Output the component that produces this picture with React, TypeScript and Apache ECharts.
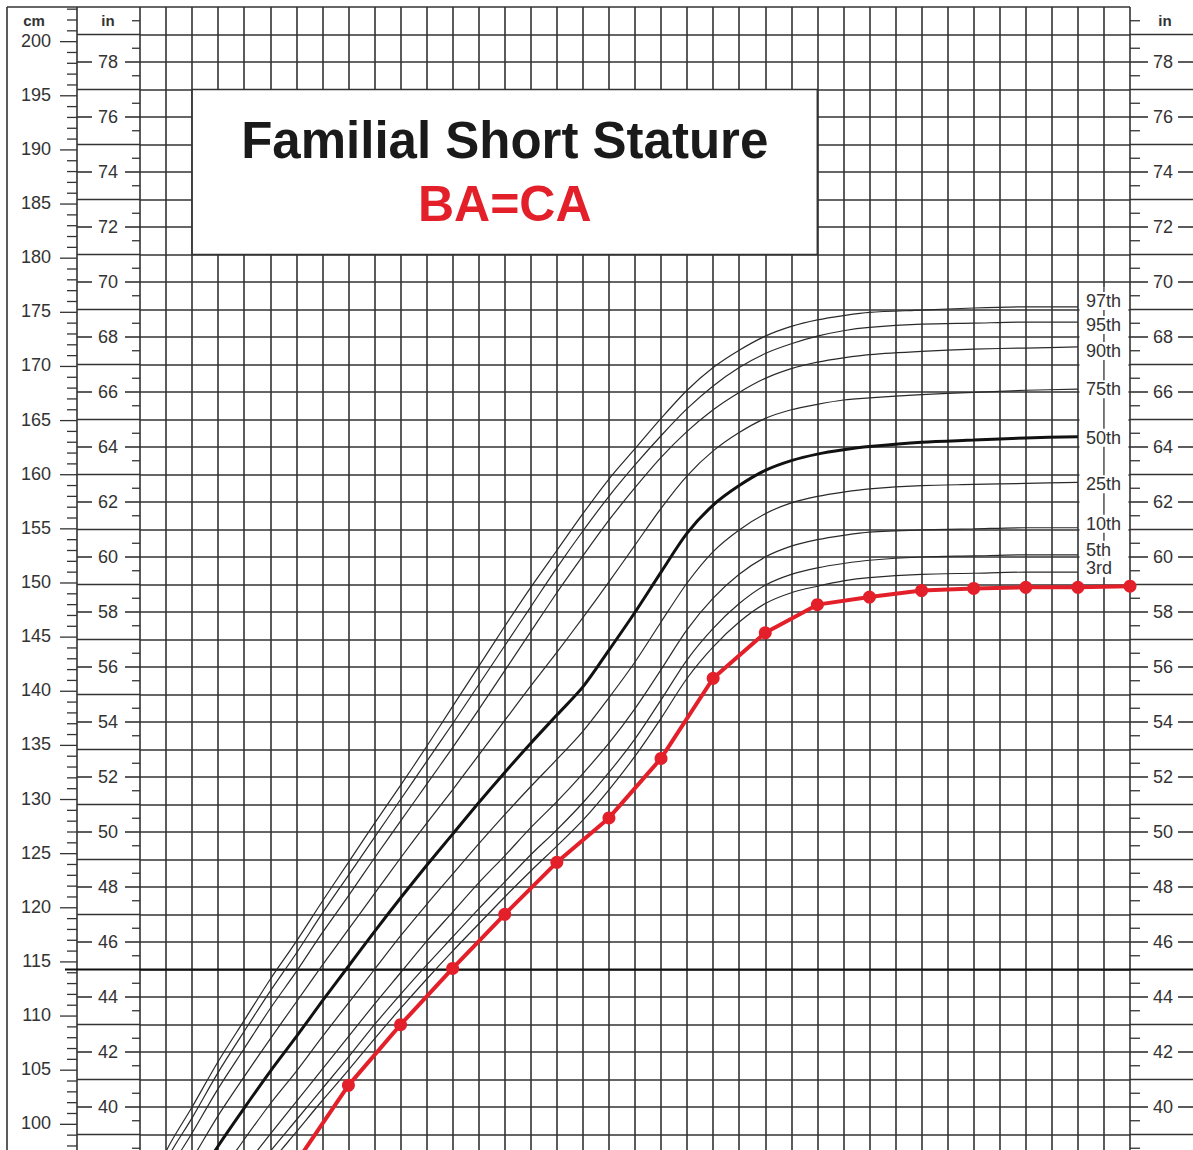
import React, { useEffect, useRef } from "react";
import * as echarts from "echarts";

// ---------- data ----------
const ages = [2, 2.5, 3, 3.5, 4, 4.5, 5, 5.5, 6, 6.5, 7, 7.5, 8, 8.5, 9, 9.5, 10, 10.5, 11, 11.5, 12, 12.5, 13, 13.5, 14, 14.5, 15, 15.5, 16, 17, 18, 19, 20];

// stature percentiles in cm
const p3 = [78.6, 83.5, 86.9, 90.3, 93.4, 96.4, 99.3, 102.2, 105.0, 107.9, 110.7, 113.4, 116.0, 118.5, 121.0, 123.4, 125.7, 128.1, 130.9, 134.0, 137.5, 141.2, 144.1, 146.4, 148.1, 149.1, 149.7, 150.2, 150.5, 150.8, 150.9, 151.0, 151.0];
const p5 = [79.4, 84.4, 87.8, 91.2, 94.4, 97.5, 100.4, 103.3, 106.2, 109.2, 112.0, 114.7, 117.3, 119.9, 122.4, 124.9, 127.2, 129.7, 132.5, 135.6, 139.2, 142.9, 145.8, 148.1, 149.8, 150.8, 151.4, 151.8, 152.1, 152.4, 152.5, 152.6, 152.6];
const p10 = [80.6, 85.8, 89.2, 92.7, 96.0, 99.1, 102.1, 105.1, 108.1, 111.1, 114.0, 116.9, 119.6, 122.3, 124.8, 127.4, 129.8, 132.4, 135.2, 138.4, 142.0, 145.7, 148.6, 150.8, 152.4, 153.4, 154.0, 154.4, 154.7, 154.9, 155.0, 155.1, 155.1];
const p25 = [82.7, 88.0, 91.6, 95.2, 98.6, 101.9, 104.9, 108.1, 111.2, 114.3, 117.4, 120.3, 123.1, 125.9, 128.6, 131.2, 133.7, 136.3, 139.4, 142.7, 146.4, 150.0, 152.9, 154.9, 156.4, 157.4, 158.0, 158.4, 158.7, 159.0, 159.1, 159.2, 159.3];
const p50 = [85.0, 90.5, 94.2, 98.0, 101.5, 104.9, 108.1, 111.4, 114.6, 117.8, 120.9, 123.9, 126.8, 129.7, 132.5, 135.2, 137.8, 140.4, 143.8, 147.3, 151.0, 154.6, 157.2, 159.0, 160.4, 161.3, 161.9, 162.3, 162.6, 163.0, 163.2, 163.4, 163.5];
const p75 = [87.3, 93.0, 96.8, 100.8, 104.4, 107.9, 111.3, 114.7, 118.0, 121.3, 124.6, 127.8, 130.9, 134.1, 137.3, 140.5, 143.6, 146.8, 150.1, 153.5, 156.9, 159.9, 162.2, 163.9, 165.2, 166.0, 166.5, 166.9, 167.1, 167.4, 167.6, 167.8, 167.9];
const p90 = [89.4, 95.2, 99.2, 103.3, 107.0, 110.7, 114.1, 117.7, 121.1, 124.6, 128.0, 131.4, 134.8, 138.3, 141.9, 145.5, 149.1, 152.5, 155.8, 158.8, 161.6, 164.0, 166.0, 167.6, 168.9, 169.8, 170.4, 170.8, 171.1, 171.4, 171.6, 171.7, 171.8];
const p95 = [90.6, 96.6, 100.6, 104.8, 108.6, 112.3, 115.8, 119.5, 123.0, 126.5, 130.0, 133.5, 137.0, 140.6, 144.2, 147.8, 151.4, 154.8, 158.0, 160.9, 163.6, 166.1, 168.2, 169.9, 171.2, 172.1, 172.8, 173.3, 173.6, 173.9, 174.0, 174.1, 174.1];
const p97 = [91.4, 97.5, 101.6, 105.8, 109.6, 113.4, 116.9, 120.6, 124.2, 127.8, 131.3, 134.9, 138.6, 142.3, 146.0, 149.6, 153.0, 156.4, 159.6, 162.4, 165.2, 167.8, 169.9, 171.5, 172.8, 173.7, 174.3, 174.7, 175.0, 175.2, 175.4, 175.5, 175.5];

const percentileNames = ["3rd", "5th", "10th", "25th", "50th", "75th", "90th", "95th", "97th"];
const percentileValues = [p3, p5, p10, p25, p50, p75, p90, p95, p97];

// patient (familial short stature, BA = CA), cm
const patientAges = [5, 6, 7, 8, 9, 10, 11, 12, 13, 14, 15, 16, 17, 18, 19, 20, 21];
const patientHeightCm = [96.5, 103.6, 109.2, 114.4, 119.4, 124.2, 128.3, 133.8, 141.2, 145.4, 148.0, 148.7, 149.3, 149.5, 149.6, 149.6, 149.7];

// tick labels
const cmLabels = [100, 105, 110, 115, 120, 125, 130, 135, 140, 145, 150, 155, 160, 165, 170, 175, 180, 185, 190, 195, 200];
const inchLabels = [40, 42, 44, 46, 48, 50, 52, 54, 56, 58, 60, 62, 64, 66, 68, 70, 72, 74, 76, 78];

const titleText = "Familial Short Stature";
const subtitleText = "BA=CA";

// ---------- scales / styles ----------
const CM_PER_IN = 2.54;
const MIN_AGE = 2;
const MAX_AGE = 21;
const MIN_IN = 38;
const MAX_IN = 80;

const GRID = "#333333";
const GRID_W = 1.6;
const TEXT = "#333333";
const RED = "#e3202a";
const FONT = "'Liberation Sans', Arial, Helvetica, sans-serif";

const labelOffsets: Record<string, number> = {
  "3rd": -4, "5th": -5, "10th": -4, "25th": 2, "50th": 1, "75th": 0, "90th": 4, "95th": 3, "97th": -6,
};

function ln(x1: number, y1: number, x2: number, y2: number, w = GRID_W, c = GRID) {
  return { type: "line", shape: { x1, y1, x2, y2 }, style: { stroke: c, lineWidth: w } };
}
function tx(t: string, x: number, y: number, font: string, align: string, fill = TEXT) {
  return {
    type: "text",
    x,
    y,
    style: { text: t, font, fill, align, verticalAlign: "middle", textAlign: align, textVerticalAlign: "middle" },
  };
}

function renderDecor(_params: any, api: any) {
  const c = (a: number, h: number) => api.coord([a, h]);
  const [gl, yTop] = c(MIN_AGE, MAX_IN);
  const [gr, yBot] = c(MAX_AGE, MIN_IN);
  const yOf = (inch: number) => c(MIN_AGE, inch)[1];
  const kids: any[] = [];

  // title box
  const [bx1, by1] = c(3, 77);
  const [bx2, by2] = c(15, 71);
  kids.push({ type: "rect", shape: { x: bx1, y: by1, width: bx2 - bx1, height: by2 - by1 }, style: { fill: "#fff", stroke: GRID, lineWidth: GRID_W } });
  const [tcx, tcy] = c(9, 75.15);
  const [, scy] = c(9, 72.85);
  kids.push(tx(titleText, tcx, tcy, `bold 51px ${FONT}`, "center", "#1a1a1a"));
  kids.push(tx(subtitleText, tcx, scy, `bold 50px ${FONT}`, "center", RED));

  // percentile label column
  const [lx1, ly1] = c(20.03, 69.8);
  const [lx2, ly2] = c(20.97, 59.35);
  kids.push({ type: "rect", shape: { x: lx1, y: ly1, width: lx2 - lx1, height: ly2 - ly1 }, style: { fill: "#fff" } });
  const xm = c(20.5, 60)[0];
  kids.push(ln(xm, ly1, xm, ly2, 1.3));

  // left columns frame
  kids.push(ln(gl - 133, yTop, gl - 133, yBot));
  kids.push(ln(gl - 63, yTop, gl - 63, yBot));
  kids.push(ln(gl - 133, yTop, gl, yTop));

  // cm ticks
  const cmMin = Math.ceil(MIN_IN * CM_PER_IN);
  const cmMax = Math.floor(MAX_IN * CM_PER_IN);
  for (let cm = cmMin; cm <= cmMax; cm++) {
    const y = yOf(cm / CM_PER_IN);
    const major = cm % 5 === 0;
    kids.push(ln(major ? gl - 80 : gl - 73, y, gl - 63, y, 1.3));
  }
  cmLabels.forEach((cm) => kids.push(tx(String(cm), gl - 89, yOf(cm / CM_PER_IN) - 1, `18px ${FONT}`, "right")));

  // inch lines / ticks
  for (let inch = MIN_IN + 0.5; inch < MAX_IN; inch += 0.5) {
    const y = yOf(inch);
    if (inch % 1 !== 0) {
      kids.push(ln(gl - 8, y, gl, y, 1.3));
      kids.push(ln(gr, y, gr + 10, y, 1.3));
    } else if (inch % 2 === 1) {
      const special = inch === 45;
      kids.push(ln(special ? gl - 75 : gl - 63, y, gl, y, special ? 2 : GRID_W, special ? "#111" : GRID));
      kids.push(ln(gr, y, gr + 63, y, special ? 2 : GRID_W, special ? "#111" : GRID));
      if (special) kids.push(ln(gl, y, gr, y, 2, "#111"));
    } else {
      kids.push(ln(gl - 63, y, gl - 48, y));
      kids.push(ln(gl - 15, y, gl, y));
      kids.push(ln(gr, y, gr + 18, y));
      kids.push(ln(gr + 48, y, gr + 63, y));
    }
  }
  inchLabels.forEach((inch) => {
    const y = yOf(inch);
    kids.push(tx(String(inch), gl - 32, y, `18px ${FONT}`, "center"));
    kids.push(tx(String(inch), gr + 33, y, `18px ${FONT}`, "center"));
  });

  // unit headers
  kids.push(tx("cm", gl - 106, yTop + 13, `bold 15px ${FONT}`, "center"));
  kids.push(tx("in", gl - 32, yTop + 13, `bold 15px ${FONT}`, "center"));
  kids.push(tx("in", gr + 35, yTop + 13, `bold 15px ${FONT}`, "center"));

  return { type: "group", children: kids };
}

function buildOption() {
  const axisCommon = {
    axisLine: { show: false },
    axisTick: { show: false },
    axisLabel: { show: false },
    splitLine: { show: true, showMinLine: true, showMaxLine: true, lineStyle: { color: GRID, width: GRID_W } },
  };
  const percentileSeries = percentileNames.map((name, k) => {
    const vals = percentileValues[k];
    const isMedian = name === "50th";
    return {
      type: "line",
      name,
      data: ages.map((a, i) => [a, vals[i] / CM_PER_IN]),
      smooth: 0.3,
      showSymbol: false,
      symbol: "none",
      silent: true,
      z: 3,
      lineStyle: { color: isMedian ? "#111" : "#2a2a2a", width: isMedian ? 3 : 1.2 },
      endLabel: {
        show: true,
        formatter: name,
        color: TEXT,
        fontSize: 18,
        fontFamily: FONT,
        backgroundColor: "#fff",
        padding: [0, 1],
        distance: 7,
        offset: [0, labelOffsets[name] || 0],
      },
    };
  });
  return {
    animation: false,
    backgroundColor: "#fff",
    grid: { left: 140, right: 63, top: 7, bottom: 8 },
    xAxis: { type: "value", min: MIN_AGE, max: MAX_AGE, interval: 0.5, ...axisCommon },
    yAxis: { type: "value", min: MIN_IN, max: MAX_IN, interval: 1, ...axisCommon },
    series: [
      {
        type: "custom",
        name: "decor",
        renderItem: renderDecor,
        data: [[MIN_AGE, MIN_IN]],
        clip: false,
        silent: true,
        z: 2,
      },
      ...percentileSeries,
      {
        type: "line",
        name: "patient",
        data: patientAges.map((a, i) => [a, patientHeightCm[i] / CM_PER_IN]),
        symbol: "circle",
        symbolSize: 13,
        showSymbol: true,
        showAllSymbol: true,
        clip: false,
        silent: true,
        z: 5,
        lineStyle: { color: RED, width: 4 },
        itemStyle: { color: RED },
      },
    ],
  };
}

export default function App() {
  const ref = useRef<HTMLDivElement>(null);
  useEffect(() => {
    if (!ref.current) return;
    const chart = echarts.init(ref.current, undefined, { renderer: "svg" });
    chart.setOption(buildOption() as any);
    return () => chart.dispose();
  }, []);
  return (
    <div style={{ position: "fixed", left: 0, top: 0, width: 1193, height: 1150, overflow: "hidden", background: "#fff" }}>
      <div ref={ref} style={{ width: 1193, height: 1170 }} />
    </div>
  );
}
